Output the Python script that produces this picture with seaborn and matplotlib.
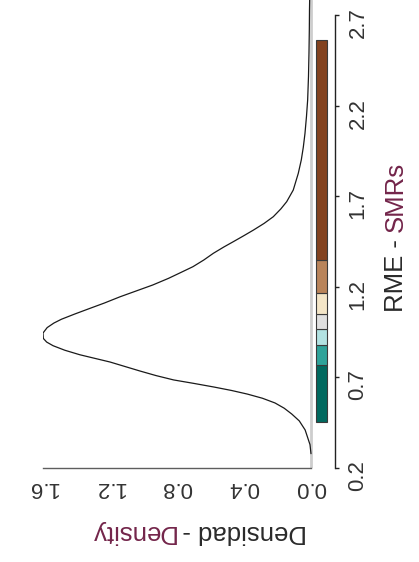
import matplotlib
matplotlib.use("Agg")
import matplotlib.pyplot as plt
import pandas as pd
import seaborn as sns

# Density curve of the standardised mortality ratios (SMR -> density)
smr = [0.279, 0.329, 0.410, 0.460, 0.498, 0.530, 0.559, 0.585, 0.608, 0.628,
       0.647, 0.667, 0.686, 0.710, 0.735, 0.760, 0.785, 0.805, 0.825, 0.850,
       0.875, 0.895, 0.915, 0.945, 0.975, 1.000, 1.021, 1.050, 1.081, 1.110,
       1.145, 1.180, 1.210, 1.247, 1.280, 1.311, 1.348, 1.385, 1.420, 1.449,
       1.480, 1.513, 1.550, 1.587, 1.630, 1.670, 1.734, 1.826, 1.900, 1.970,
       2.046, 2.140, 2.231, 2.360, 2.492, 2.620, 2.728, 2.783]
density = [0.000, 0.006, 0.035, 0.070, 0.115, 0.160, 0.215, 0.290, 0.380, 0.475,
           0.580, 0.700, 0.820, 0.925, 1.020, 1.110, 1.200, 1.290, 1.380, 1.470,
           1.540, 1.578, 1.598, 1.600, 1.575, 1.535, 1.490, 1.410, 1.320, 1.235,
           1.140, 1.035, 0.945, 0.850, 0.775, 0.705, 0.640, 0.583, 0.520, 0.464,
           0.405, 0.344, 0.280, 0.225, 0.180, 0.145, 0.106, 0.076, 0.058, 0.046,
           0.036, 0.027, 0.020, 0.015, 0.012, 0.010, 0.009, 0.008]

# Class breaks of the map legend and their colours
class_breaks = [0.452, 0.767, 0.879, 0.966, 1.051, 1.166, 1.347, 2.561]
class_colors = ["#01695f", "#2fa39a", "#b2e2e2", "#e0e0e0", "#f3e5c7",
                "#b9845a", "#83421f"]

# Axis ticks
smr_ticks = [0.2, 0.7, 1.2, 1.7, 2.2, 2.7]
smr_tick_labels = ["0.2", "0.7", "1.2", "1.7", "2.2", "2.7"]
density_ticks = [0.0, 0.4, 0.8, 1.2, 1.6]
density_tick_labels = ["0.0", "0.4", "0.8", "1.2", "1.6"]

DARK = "#2a2a2a"
MAROON = "#73254a"
TITLE_FONT = ["Liberation Sans", "DejaVu Sans"]
TICK_FONT = ["Liberation Sans Narrow", "Liberation Sans", "DejaVu Sans"]

sns.set_style("white")

W_PX, H_PX = 419, 562
fig = plt.figure(figsize=(W_PX / 100, H_PX / 100), dpi=100)
ax = fig.add_axes([43 / W_PX, 94 / H_PX, 292 / W_PX, 468 / H_PX])

df = pd.DataFrame({"smr": smr, "density": density})

# baseline at zero density
ax.axvline(0, color="#cdcdcd", lw=2.0, zorder=1)

sns.lineplot(data=df, x="density", y="smr", orient="y", estimator=None,
             color="#1a1a1a", lw=0.9, ax=ax, zorder=3)

# legend colour strip drawn alongside the curve
lows = class_breaks[:-1]
heights = [hi - lo for lo, hi in zip(class_breaks[:-1], class_breaks[1:])]
ax.bar(x=[-0.0627] * len(lows), height=heights, bottom=lows, width=0.0657,
       color=class_colors, edgecolor="#3a3a3a", linewidth=0.8, zorder=2)

ax.set_xlim(1.6, -0.1433)
ax.set_ylim(0.2, 2.783)
ax.set_xlabel("")
ax.set_ylabel("")

for side in ("left", "top"):
    ax.spines[side].set_visible(False)
ax.spines["bottom"].set_bounds(0, 1.6)
ax.spines["bottom"].set_color("#5e5e5e")
ax.spines["bottom"].set_linewidth(1.0)
ax.spines["right"].set_visible(True)
ax.spines["right"].set_bounds(0.2, 2.7)
ax.spines["right"].set_color("#222222")
ax.spines["right"].set_linewidth(1.0)

ax.yaxis.tick_right()
ax.set_yticks(smr_ticks)
ax.set_yticklabels(smr_tick_labels, rotation=90, family=TICK_FONT,
                   fontsize=16, color="#333333")
ax.set_xticks(density_ticks)
ax.set_xticklabels(density_tick_labels, rotation=180, family=TICK_FONT,
                   fontsize=16, color="#333333")
ax.tick_params(axis="y", direction="out", length=3, width=1.0,
               color="#222222", pad=6)
ax.tick_params(axis="x", direction="out", length=3, width=1.0,
               color="#5e5e5e", pad=3.5)

renderer = fig.canvas.get_renderer()


def text_width(s, rotation, size):
    t = fig.text(0, 0, s, rotation=rotation, family=TITLE_FONT, fontsize=size)
    bb = t.get_window_extent(renderer)
    t.remove()
    return bb.width if rotation == 180 else bb.height


TITLE_SIZE = 18.5

# Density axis title, upside down, two colours
full = "Densidad - Density"
wd = text_width(full, 180, TITLE_SIZE)
x0, yc = 307, 532
fig.text(x0 / W_PX, 1 - yc / H_PX, "Densidad -", rotation=180, ha="right",
         va="center", family=TITLE_FONT, fontsize=TITLE_SIZE, color=DARK)
fig.text((x0 - wd) / W_PX, 1 - yc / H_PX, "Density", rotation=180, ha="left",
         va="center", family=TITLE_FONT, fontsize=TITLE_SIZE, color=MAROON)

# SMR axis title, reading upward, two colours
full = "RME - SMRs"
ws = text_width(full, 90, TITLE_SIZE)
xc, y0 = 396, H_PX - 312
fig.text(xc / W_PX, y0 / H_PX, "RME -", rotation=90, ha="center",
         va="bottom", family=TITLE_FONT, fontsize=TITLE_SIZE, color=DARK)
fig.text(xc / W_PX, (y0 + ws) / H_PX, "SMRs", rotation=90, ha="center",
         va="top", family=TITLE_FONT, fontsize=TITLE_SIZE, color=MAROON)

fig.savefig("out.png", dpi=100, facecolor="white")
